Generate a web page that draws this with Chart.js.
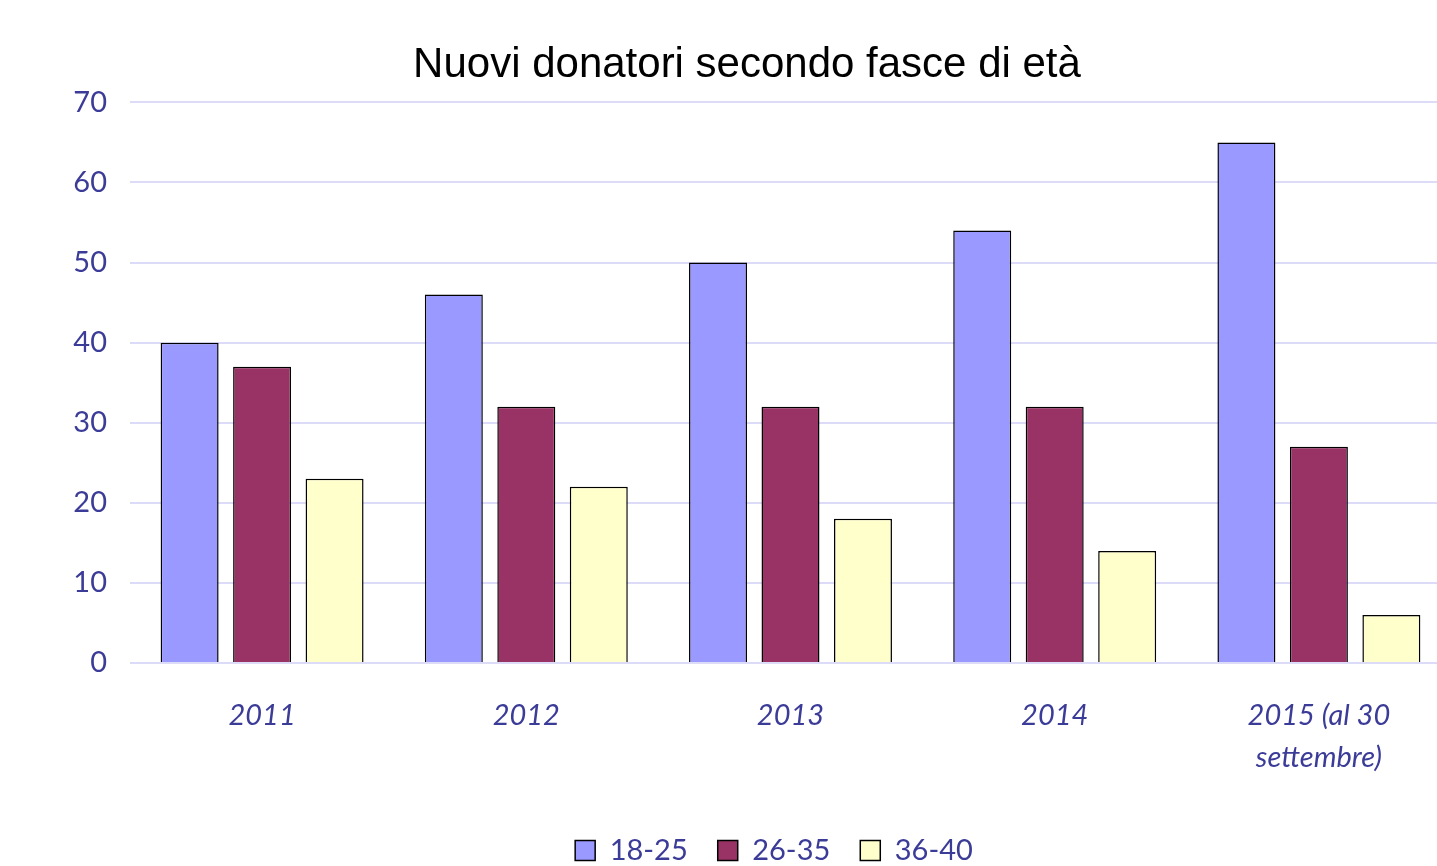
<!DOCTYPE html>
<html>
<head>
<meta charset="utf-8">
<script src="https://cdn.jsdelivr.net/npm/chart.js@4"></script>
<style>
  html, body { margin: 0; padding: 0; background: #fff; overflow: hidden; }
  #wrap { width: 1490px; height: 875px; }
</style>
</head>
<body>
<div id="wrap"><canvas id="chart" width="1490" height="875"></canvas></div>
<script>
const labels = ['2011', '2012', '2013', '2014', ['2015 (al 30', 'settembre)']];
const eta1825 = [40, 46, 50, 54, 65];
const eta2635 = [37, 32, 32, 32, 27];
const eta3640 = [23, 22, 18, 14, 6];
const yTicks = [0, 10, 20, 30, 40, 50, 60, 70];

const blue = '#3b3b98';
const ctx = document.getElementById('chart').getContext('2d');

// nudge the legend a bit to the right, like the original
const legendShift = {
    id: 'legendShift',
    afterLayout(chart) {
        chart.legend.left += 27;
        chart.legend.right += 27;
    }
};

new Chart(ctx, {
    type: 'bar',
    data: {
        labels: labels,
        datasets: [
            { label: '18-25', data: eta1825, backgroundColor: '#9999ff', borderColor: '#000', borderWidth: 1.5 },
            { label: '26-35', data: eta2635, backgroundColor: '#993366', borderColor: '#000', borderWidth: 1.5 },
            { label: '36-40', data: eta3640, backgroundColor: '#ffffcc', borderColor: '#000', borderWidth: 1.5 }
        ]
    },
    options: {
        responsive: false,
        animation: false,
        devicePixelRatio: 1,
        categoryPercentage: 0.823,
        barPercentage: 0.8,
        layout: { padding: { left: 43, right: 39, top: 0, bottom: 0 } },
        plugins: {
            title: {
                display: true,
                text: 'Nuovi donatori secondo fasce di età',
                color: '#000',
                font: { family: '"Liberation Sans", Arial, sans-serif', size: 42, weight: 'normal' },
                padding: { top: 40, bottom: 12 }
            },
            legend: {
                position: 'bottom',
                labels: {
                    color: blue,
                    font: { family: 'Lato, "Open Sans", sans-serif', size: 29 },
                    boxWidth: 20,
                    boxHeight: 20,
                    padding: 30
                }
            },
            tooltip: { enabled: false }
        },
        scales: {
            x: {
                grid: { display: false, drawTicks: false },
                border: { display: false },
                afterFit: (axis) => { axis.height = 143; },
                ticks: {
                    color: blue,
                    font: { family: 'Lato, "Open Sans", sans-serif', size: 29, style: 'italic', lineHeight: 1.45 },
                    padding: 32,
                    maxRotation: 0
                }
            },
            y: {
                min: 0,
                max: 70,
                afterBuildTicks: (axis) => { axis.ticks = yTicks.map(v => ({ value: v })); },
                grid: { color: '#dcdcf8', lineWidth: 2, drawTicks: false },
                border: { display: false },
                afterFit: (axis) => { axis.width = 87; },
                ticks: {
                    color: blue,
                    font: { family: 'Lato, "Open Sans", sans-serif', size: 29 },
                    padding: 23
                }
            }
        }
    },
    plugins: [legendShift]
});
</script>
</body>
</html>
